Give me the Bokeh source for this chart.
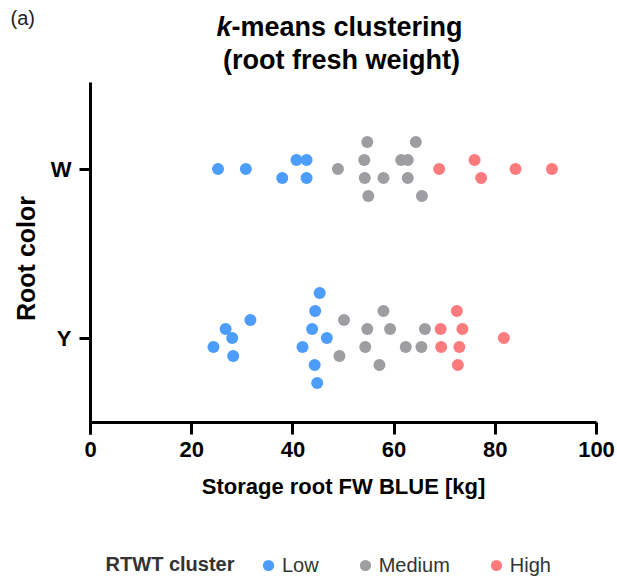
import numpy as np
from bokeh.plotting import figure
from bokeh.models import (ColumnDataSource, Label, Legend, LegendItem,
                          FixedTicker, LinearAxis)
from bokeh.embed import file_html
from bokeh.resources import INLINE

# ---------------- data ----------------
categories = ["Y", "W"]          # root colour, bottom to top
cluster_names = ["Low", "Medium", "High"]

# storage root FW BLUE [kg]
w_low = [25.2, 30.7, 40.7, 42.7, 37.9, 42.7]
w_medium = [48.9, 54.7, 54.1, 54.2, 54.9, 57.9, 61.4, 62.7, 64.3, 62.7, 65.5]
w_high = [68.9, 75.9, 77.2, 84.0, 91.2]
y_low = [45.3, 44.4, 31.6, 26.7, 43.8, 28.0, 46.7, 24.3, 41.9, 28.2, 44.3, 44.8]
y_medium = [50.1, 57.9, 54.7, 59.2, 66.1, 54.3, 62.3, 65.4, 49.2, 57.1]
y_high = [72.4, 69.2, 73.5, 81.7, 69.3, 72.9, 72.6]

# swarm slot of each dot (half-dot steps, up positive)
w_low_slot = [0, 0, 1, 1, -1, -1]
w_medium_slot = [0, 3, 1, -1, -3, -1, 1, 1, 3, -1, -3]
w_high_slot = [0, 1, -1, 0, 0]
y_low_slot = [5, 3, 2, 1, 1, 0, 0, -1, -1, -2, -3, -5]
y_medium_slot = [2, 3, 1, 1, 1, -1, -1, -1, -2, -3]
y_high_slot = [3, 1, 1, 0, -1, -1, -3]

x_ticks = [0, 20, 40, 60, 80, 100]

colors = {"Low": "#4c9dfd", "Medium": "#9d9da2", "High": "#fd7b7c"}

# ---------------- geometry ----------------
FONT = "Liberation Sans"
W, H = 617, 582
X0_PX, PX_PER_X = 90.0, 5.06          # x=0 at 90 px, 5.06 px per kg
Y1_PX, PX_PER_Y = 168.5, 169.0        # category "W" (1) at 168.5 px
SLOT_STEP = 9.0 / PX_PER_Y            # one swarm slot = 9 px
TEXT_SHIFT = 9                         # label baseline correction (px)


def dx(px):
    return (px - X0_PX) / PX_PER_X


def dy(py):
    return 1 + (Y1_PX - py) / PX_PER_Y


def dty(py):
    return dy(py - TEXT_SHIFT)


p = figure(width=W, height=H, output_backend="svg", toolbar_location=None,
           x_range=(dx(0), dx(W)), y_range=(dy(H), dy(0)),
           x_axis_type=None, y_axis_type=None,
           min_border=0, min_border_left=0, min_border_right=0,
           min_border_top=0, min_border_bottom=0)
p.outline_line_color = None
p.xgrid.visible = False
p.ygrid.visible = False
p.background_fill_color = "white"
p.border_fill_color = "white"

groups = {
    "Low": (w_low, w_low_slot, y_low, y_low_slot),
    "Medium": (w_medium, w_medium_slot, y_medium, y_medium_slot),
    "High": (w_high, w_high_slot, y_high, y_high_slot),
}
renderers = {}
for name in cluster_names:
    wx, ws, yx, ys = groups[name]
    base_w = categories.index("W")
    base_y = categories.index("Y")
    xs = list(wx) + list(yx)
    yv = list(base_w + np.array(ws) * SLOT_STEP) + list(base_y + np.array(ys) * SLOT_STEP)
    src = ColumnDataSource(dict(x=xs, y=yv))
    renderers[name] = p.scatter("x", "y", source=src, size=12,
                                fill_color=colors[name], line_color=None)

# axes drawn at fixed locations inside the full-canvas frame
xaxis = LinearAxis(fixed_location=dy(421.7), bounds=(0, 100),
                   ticker=FixedTicker(ticks=x_ticks),
                   axis_label="Storage root FW BLUE [kg]")
yaxis = LinearAxis(fixed_location=0, bounds=(dy(434), dy(82)),
                   ticker=FixedTicker(ticks=list(range(len(categories)))),
                   axis_label="Root color")
yaxis.major_label_overrides = {i: c for i, c in enumerate(categories)}

for ax in (xaxis, yaxis):
    ax.axis_line_width = 3
    ax.major_tick_line_width = 3
    ax.major_tick_in = 0
    ax.minor_tick_line_color = None
    ax.major_label_text_font = FONT
    ax.major_label_text_font_style = "bold"
    ax.major_label_text_color = "black"
    ax.major_label_text_font_size = "22px"
    ax.axis_label_text_font = FONT
    ax.axis_label_text_font_style = "bold"
    ax.axis_label_text_color = "black"

xaxis.major_tick_out = 12
xaxis.major_label_standoff = 8
xaxis.axis_label_text_font_size = "22px"
xaxis.axis_label_standoff = 13

yaxis.major_tick_out = 11
yaxis.major_label_standoff = 8
yaxis.axis_label_text_font_size = "25px"
yaxis.axis_label_standoff = 8

p.add_layout(xaxis, "below")
p.add_layout(yaxis, "left")

# ---------------- texts ----------------
TITLE_SIZE = 27
cx = 339
full_w = 9.114 * TITLE_SIZE
start = cx - full_w / 2
p.add_layout(Label(x=dx(start), y=dty(35), text="k", text_font=FONT,
                   text_font_style="bold italic", text_font_size=f"{TITLE_SIZE}px",
                   text_color="black", text_align="left", text_baseline="alphabetic"))
p.add_layout(Label(x=dx(start + 0.556 * TITLE_SIZE), y=dty(35), text="-means clustering",
                   text_font=FONT, text_font_style="bold",
                   text_font_size=f"{TITLE_SIZE}px", text_color="black",
                   text_align="left", text_baseline="alphabetic"))
p.add_layout(Label(x=dx(cx + 2), y=dty(68), text="(root fresh weight)",
                   text_font=FONT, text_font_style="bold",
                   text_font_size=f"{TITLE_SIZE}px", text_color="black",
                   text_align="center", text_baseline="alphabetic"))
p.add_layout(Label(x=dx(10), y=dty(26), text="(a)", text_font=FONT,
                   text_font_size="20px", text_color="#222222",
                   text_align="left", text_baseline="alphabetic"))
p.add_layout(Label(x=dx(234), y=dty(572), text="RTWT cluster", text_font=FONT,
                   text_font_style="bold", text_font_size="20px",
                   text_color="#333333", text_align="right",
                   text_baseline="alphabetic"))

legend = Legend(items=[LegendItem(label=n, renderers=[renderers[n]]) for n in cluster_names],
                orientation="horizontal", location=(254, 3),
                label_text_font=FONT, label_text_font_size="20px",
                label_text_color="#333333", glyph_width=28, glyph_height=28,
                label_height=28, label_width=0, label_standoff=0, spacing=32,
                padding=0, margin=0, border_line_color=None,
                background_fill_alpha=0)
p.add_layout(legend, "center")

open("out.html", "w").write(file_html(p, INLINE))
